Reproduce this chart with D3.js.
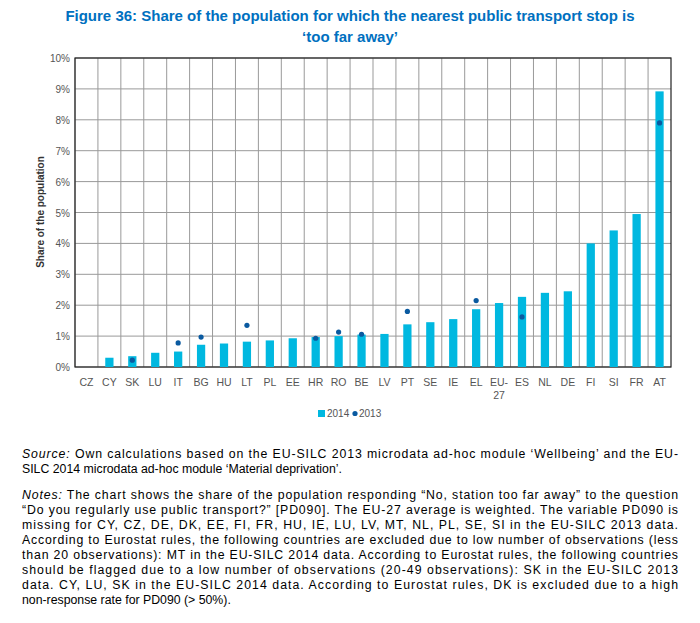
<!DOCTYPE html>
<html><head><meta charset="utf-8">
<script src="https://d3js.org/d3.v7.min.js"></script>
<style>body{margin:0;background:#fff;font-family:"Liberation Sans",Arial,sans-serif;}</style>
</head><body>
<svg id="c" width="700" height="623"></svg>
<script>
var categories = ["CZ","CY","SK","LU","IT","BG","HU","LT","PL","EE","HR","RO","BE","LV","PT","SE","IE","EL","EU-27","ES","NL","DE","FI","SI","FR","AT"];
var values2014 = [0,0.3,0.35,0.46,0.5,0.72,0.76,0.82,0.86,0.93,0.97,1.0,1.05,1.07,1.38,1.45,1.55,1.87,2.07,2.27,2.4,2.45,4.0,4.42,4.95,8.92];
var values2013 = [null,null,0.22,null,0.78,0.97,null,1.35,null,null,0.93,1.13,1.06,null,1.8,null,null,2.15,null,1.62,null,null,null,null,null,7.9];
var yTicks = [0,1,2,3,4,5,6,7,8,9,10];
var svg = d3.select("#c");
var blue = "#0070c0";
svg.append("text").attr("x",350).attr("y",21).attr("text-anchor","middle").attr("font-size",15).attr("font-weight","bold").attr("fill",blue)
  .text("Figure 36: Share of the population for which the nearest public transport stop is");
svg.append("text").attr("x",350).attr("y",42).attr("text-anchor","middle").attr("font-size",15).attr("font-weight","bold").attr("fill",blue)
  .text("\u2018too far away\u2019");
var L=75,R=671,T=58,B=367;
var x = d3.scaleBand().domain(categories).range([L,R]).paddingInner(0.5).paddingOuter(0.25);
var xb = d3.scaleBand().domain(categories).range([L,R]);
var y = d3.scaleLinear().domain([0,10]).range([B,T]);
var g = svg.append("g");
g.selectAll(".hg").data(yTicks).enter().append("line").attr("x1",L).attr("x2",R).attr("y1",d=>y(d)).attr("y2",d=>y(d)).attr("stroke","#999").attr("stroke-width",1);
g.selectAll(".vg").data(categories).enter().append("line").attr("x1",d=>xb(d)).attr("x2",d=>xb(d)).attr("y1",T).attr("y2",B).attr("stroke","#999");
g.append("rect").attr("x",L).attr("y",T).attr("width",R-L).attr("height",B-T).attr("fill","none").attr("stroke","#222").attr("stroke-width",1.2);
g.selectAll(".bar").data(values2014).enter().append("rect")
  .attr("x",(d,i)=>xb(categories[i])+xb.bandwidth()*0.32).attr("width",xb.bandwidth()*0.36)
  .attr("y",d=>y(d)).attr("height",d=>B-y(d)).attr("fill","#00b8e0");
g.selectAll(".dot").data(values2013).enter().filter(d=>d!==null).append("circle")
  .attr("cx",function(d){var i=values2013.indexOf(d);return xb(categories[i])+xb.bandwidth()/2;})
  .attr("cy",d=>y(d)).attr("r",2.6).attr("fill","#0a5aa0");
g.selectAll(".yt").data(yTicks).enter().append("text").attr("x",L-5).attr("y",d=>y(d)+4).attr("text-anchor","end").attr("font-size",10).attr("fill","#555").text(d=>d+"%");
categories.forEach(function(c){
  var cx = xb(c)+xb.bandwidth()/2;
  var parts = c==="EU-27" ? ["EU-","27"] : [c];
  parts.forEach(function(p,k){
    svg.append("text").attr("x",cx).attr("y",386+k*13).attr("text-anchor","middle").attr("font-size",10.5).attr("fill","#555").text(p);
  });
});
svg.append("text").attr("transform","translate(44,212) rotate(-90)").attr("text-anchor","middle").attr("font-size",10).attr("font-weight","bold").attr("fill","#333").text("Share of the population");
svg.append("rect").attr("x",318).attr("y",410).attr("width",7).attr("height",7).attr("fill","#00b8e0");
svg.append("text").attr("x",327).attr("y",417).attr("font-size",10).attr("fill","#555").text("2014");
svg.append("circle").attr("cx",355).attr("cy",413.5).attr("r",2.6).attr("fill","#0a5aa0");
svg.append("text").attr("x",359).attr("y",417).attr("font-size",10).attr("fill","#555").text("2013");
var lines = [
 [[{t:"Source:",i:1},{t:" Own calculations based on the EU-SILC 2013 microdata ad-hoc module \u2018Wellbeing\u2019 and the EU-"}],458],
 [[{t:"SILC 2014 microdata ad-hoc module \u2018Material deprivation\u2019."}],473],
 [[{t:"Notes:",i:1},{t:" The chart shows the share of the population responding \u201cNo, station too far away\u201d to the question"}],499],
 [[{t:"\u201cDo you regularly use public transport?\u201d [PD090]. The EU-27 average is weighted. The variable PD090 is"}],514],
 [[{t:"missing for CY, CZ, DE, DK, EE, FI, FR, HU, IE, LU, LV, MT, NL, PL, SE, SI in the EU-SILC 2013 data."}],529],
 [[{t:"According to Eurostat rules, the following countries are excluded due to low number of observations (less"}],544],
 [[{t:"than 20 observations):  MT in the EU-SILC 2014 data. According to Eurostat rules, the following countries"}],559],
 [[{t:"should be flagged due to a low number of observations (20-49 observations): SK in the EU-SILC 2013"}],574],
 [[{t:"data. CY, LU, SK in the EU-SILC 2014 data. According to Eurostat rules, DK is excluded due to a high"}],589],
 [[{t:"non-response rate for PD090 (> 50%)."}],604]
];
lines.forEach(function(l){
  var t = svg.append("text").attr("x",22).attr("y",l[1]).attr("font-size",12.3).attr("fill","#000").attr("textLength", l[1]===473||l[1]===604?null:656).attr("lengthAdjust","spacing");
  l[0].forEach(function(s){ t.append("tspan").attr("font-style",s.i?"italic":null).text(s.t); });
});
</script>
</body></html>
